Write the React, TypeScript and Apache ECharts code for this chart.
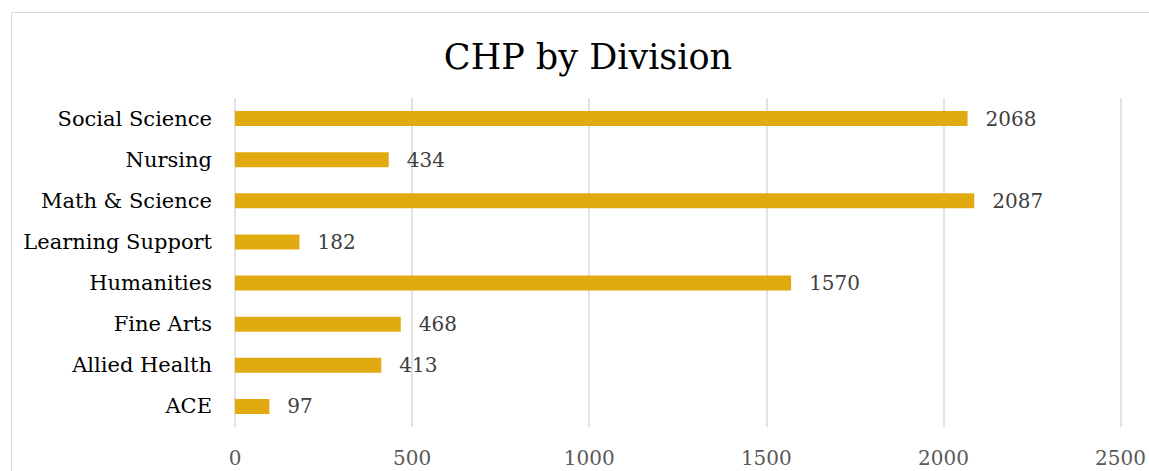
import React, { useEffect, useRef } from "react";
import * as echarts from "echarts";

const categories = ["Social Science", "Nursing", "Math & Science", "Learning Support", "Humanities", "Fine Arts", "Allied Health", "ACE"];
const values = [2068, 434, 2087, 182, 1570, 468, 413, 97];
const titleText = "CHP by Division";

const FONT = "'DejaVu Serif', serif";

export default function App() {
  const ref = useRef<HTMLDivElement>(null);
  useEffect(() => {
    document.body.style.margin = "0";
    const chart = echarts.init(ref.current!, null, { renderer: "svg" });
    chart.setOption({
      animation: false,
      backgroundColor: "#ffffff",
      title: {
        text: titleText,
        left: 583,
        textAlign: "center",
        top: 34,
        textStyle: { fontFamily: FONT, fontSize: 35, fontWeight: "normal", color: "#000000" },
      },
      graphic: [
        {
          type: "rect",
          shape: { x: 11.5, y: 12.5, width: 1160, height: 500 },
          style: { fill: "none", stroke: "#d9d9d9", lineWidth: 1 },
          silent: true,
        },
      ],
      grid: { left: 235, right: 28, top: 98, bottom: 44 },
      xAxis: {
        type: "value",
        min: 0,
        max: 2500,
        interval: 500,
        axisLine: { show: false },
        axisTick: { show: false },
        splitLine: { lineStyle: { color: "#d9d9d9", width: 1.5 } },
        axisLabel: {
          fontFamily: FONT,
          fontSize: 20,
          color: "#595959",
          margin: 21,
          formatter: (v: number) => String(v),
        },
      },
      yAxis: {
        type: "category",
        data: categories,
        inverse: true,
        axisLine: { show: false },
        axisTick: { show: false },
        axisLabel: { fontFamily: FONT, fontSize: 21, color: "#000000", margin: 23 },
      },
      series: [
        {
          type: "bar",
          data: values,
          barWidth: 15,
          itemStyle: { color: "#E1AA10" },
          label: {
            show: true,
            position: "right",
            distance: 18,
            fontFamily: FONT,
            fontSize: 20,
            color: "#404040",
          },
        },
      ],
    });
    return () => chart.dispose();
  }, []);
  return <div ref={ref} style={{ width: 1149, height: 471 }} />;
}
